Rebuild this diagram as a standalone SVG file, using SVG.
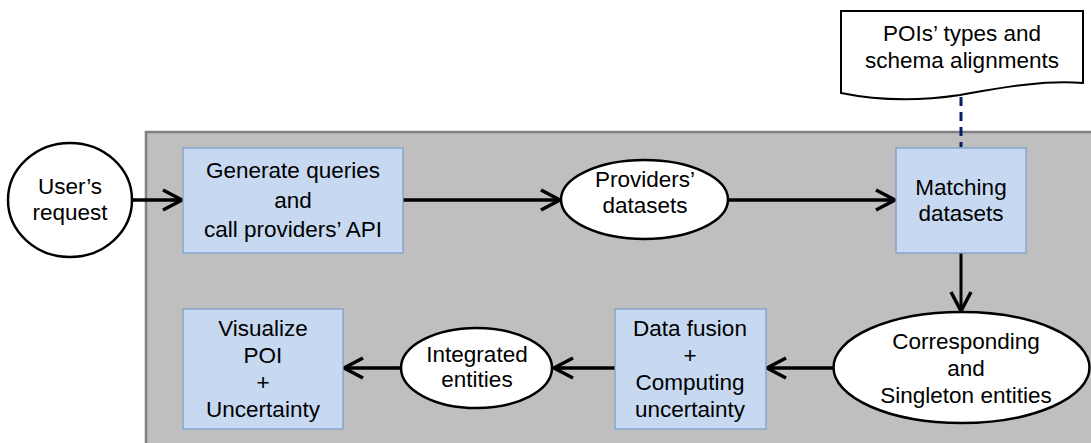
<svg xmlns="http://www.w3.org/2000/svg" width="1091" height="443" viewBox="0 0 1091 443">
<defs>
<style>
.t{font-family:"Liberation Sans",Arial,sans-serif;font-size:22.5px;fill:#000;text-anchor:middle}
.box{fill:#c6d9f1;stroke:#7f9fc9;stroke-width:1.3}
.ell{fill:#fff;stroke:#000;stroke-width:2.5}
.arr{stroke:#000;stroke-width:3.5;fill:none;marker-end:url(#ah)}
</style>
<marker id="ah" markerUnits="userSpaceOnUse" viewBox="-24 -14 28 28" markerWidth="28" markerHeight="28" refX="0" refY="0" orient="auto">
<path d="M-19,-10 L0,0 L-19,10" fill="none" stroke="#000" stroke-width="3.5" stroke-linejoin="miter"/>
</marker>
</defs>
<rect id="panel" x="146" y="132" width="960" height="320" fill="#bfbfbf" stroke="#808080" stroke-width="2.5"/>
<g id="connectors">
<path class="arr" d="M133,200 H182"/>
<path class="arr" d="M403,200 H560"/>
<path class="arr" d="M728,200 H895"/>
<path class="arr" d="M961,253 V311" style="stroke-width:3"/>
<path class="arr" d="M833,368 H767"/>
<path class="arr" d="M615,368 H554"/>
<path class="arr" d="M401,368 H344"/>
<path d="M961,97 V147" stroke="#002060" stroke-width="3" stroke-dasharray="9,6" fill="none"/>
</g>
<g id="doc">
<path d="M841,11 H1083 V83 C1040,80 1000,88 960,95 C920,101 880,101 841,93 Z" fill="#fff" stroke="#000" stroke-width="2"/>
<text class="t" x="962" y="41">POIs’ types and</text>
<text class="t" x="962" y="68">schema alignments</text>
</g>
<g id="user">
<ellipse class="ell" cx="70" cy="200" rx="62" ry="57"/>
<text class="t" x="70" y="194">User’s</text>
<text class="t" x="70" y="220">request</text>
</g>
<g id="generate">
<rect class="box" x="183" y="148" width="220" height="105"/>
<text class="t" x="293" y="178">Generate queries</text>
<text class="t" x="293" y="208">and</text>
<text class="t" x="293" y="237">call providers’ API</text>
</g>
<g id="providers">
<ellipse class="ell" cx="644.5" cy="199.5" rx="83.5" ry="39.5"/>
<text class="t" x="645" y="187">Providers’</text>
<text class="t" x="645" y="213">datasets</text>
</g>
<g id="matching">
<rect class="box" x="896" y="148" width="130" height="105"/>
<text class="t" x="961" y="195">Matching</text>
<text class="t" x="961" y="221">datasets</text>
</g>
<g id="corresponding">
<ellipse class="ell" cx="961.5" cy="367.5" rx="128" ry="55.5"/>
<text class="t" x="966" y="349">Corresponding</text>
<text class="t" x="966" y="376">and</text>
<text class="t" x="966" y="403">Singleton entities</text>
</g>
<g id="fusion">
<rect class="box" x="615" y="309" width="151" height="120"/>
<text class="t" x="690" y="336">Data fusion</text>
<text class="t" x="690" y="363">+</text>
<text class="t" x="690" y="390">Computing</text>
<text class="t" x="690" y="417">uncertainty</text>
</g>
<g id="integrated">
<ellipse class="ell" cx="476.5" cy="368" rx="75.5" ry="40"/>
<text class="t" x="477" y="362">Integrated</text>
<text class="t" x="477" y="387">entities</text>
</g>
<g id="visualize">
<rect class="box" x="183" y="309" width="160" height="120"/>
<text class="t" x="263" y="336">Visualize</text>
<text class="t" x="263" y="363">POI</text>
<text class="t" x="263" y="390">+</text>
<text class="t" x="263" y="417">Uncertainty</text>
</g>
</svg>
